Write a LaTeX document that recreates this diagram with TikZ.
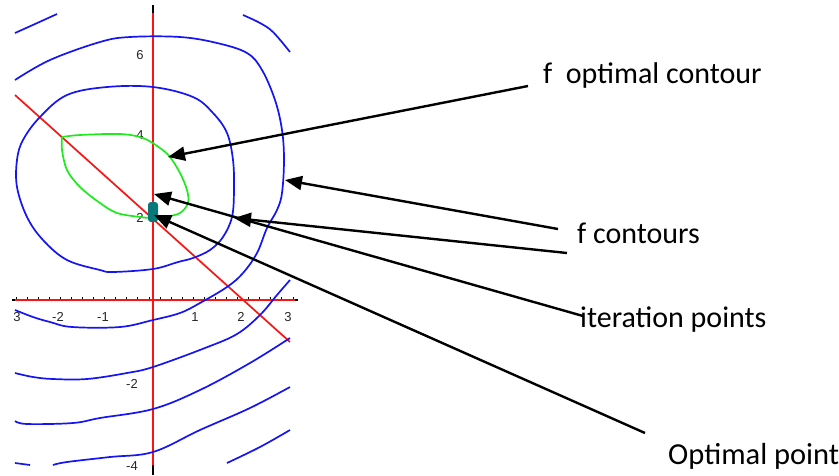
\documentclass[tikz,border=0pt]{standalone}
\usepackage{fontspec}
\newfontfamily\labfont{Carlito}
\newfontfamily\numfont{Liberation Sans}
\usetikzlibrary{arrows.meta}
\definecolor{cblue}{RGB}{20,20,245}
\definecolor{cred}{RGB}{250,20,20}
\definecolor{cgreen}{RGB}{30,235,30}
\definecolor{cteal}{RGB}{10,120,120}
\tikzset{
  contour/.style={cblue, line width=1.7pt, line join=round},
  axisline/.style={cred, line width=1.7pt},
  optcont/.style={cgreen, line width=1.7pt, line join=round},
  pointer/.style={black, line width=2.4pt, -{Triangle[length=17pt,width=14pt]}, shorten >=0pt},
  lab/.style={anchor=west, inner sep=0pt, font=\labfont\fontsize{30}{30}\selectfont},
  num/.style={inner sep=0pt, font=\numfont\fontsize{13}{13}\selectfont, text=black!85}
}
\begin{document}
\begin{tikzpicture}[x=1pt,y=-1pt]
\useasboundingbox (0,0) rectangle (839,475);
% axes
\draw[axisline] (153,13) -- (153,465);
\draw[black, line width=1.7pt] (153,5) -- (153,13);
\draw[black, line width=1.7pt] (153,465) -- (153,475);
\draw[axisline] (15,300) -- (295,300);
\draw[black, line width=1.7pt] (12,300) -- (15,300);
\draw[black, line width=1.7pt] (295,300) -- (298,300);
\foreach \i in {0,...,25} \draw[black, line width=0.9pt] (16+11.08*\i,299) -- (16+11.08*\i,296.5);
% axis numbers
\node[num] (xm3) at (17,317) {3};
\node[num] (xm2) at (58,317) {-2};
\node[num] (xm1) at (103,317) {-1};
\node[num] (x1) at (195,317) {1};
\node[num] (x2) at (241,317) {2};
\node[num] (x3) at (288,317) {3};
\node[num] (y6) at (140,55) {6};
\node[num] (y4) at (140,135) {4};
\node[num] (y2) at (140,218) {2};
\node[num] (ym2) at (132,384) {-2};
\node[num] (ym4) at (132,466) {-4};
% red diagonal
\draw[cred, line width=1.7pt] (15,95) -- (290,342);
% blue contours
\draw[contour] plot[smooth cycle, tension=0.6] coordinates {(153,87) (193,97) (213,113) (227,133) (233,160) (234,190) (232,217) (223,237) (210,250) (193,258) (178,262) (153,269) (113,272) (100,270) (67,260) (43,240) (27,217) (17,187) (17,160) (23,140) (40,117) (67,95) (107,87)};
\draw[contour] plot[smooth, tension=0.6] coordinates {(15,80) (50,60) (100,42) (130,37) (180,37) (217,43) (247,53) (262,70) (275,100) (282,130) (284,160) (282,193) (277,210) (267,228) (257,253) (243,273) (227,287) (200,303) (180,313) (153,320) (120,327) (72,327) (50,322) (33,317) (15,310)};
\draw[contour] plot[smooth, tension=0.6] coordinates {(15,33) (35,24) (57,14)};
\draw[contour] plot[smooth, tension=0.6] coordinates {(243,15) (260,23) (273,32) (290,52)};
\draw[contour] plot[smooth, tension=0.6] coordinates {(290,280) (277,295) (260,315) (237,334) (205,348) (153,367) (127,373) (87,379) (53,379) (33,377) (15,373)};
\draw[contour] plot[smooth, tension=0.6] coordinates {(290,338) (250,363) (200,390) (153,409) (100,418) (73,423) (27,424) (15,421)};
\draw[contour] plot[smooth, tension=0.6] coordinates {(290,387) (250,408) (200,430) (153,452) (110,457) (67,462) (53,465)};
\draw[contour] (15,463) -- (30,465);
\draw[contour] plot[smooth, tension=0.6] coordinates {(227,463) (260,447) (290,430)};
% green optimal contour
\draw[optcont] plot[smooth, tension=0.55] coordinates {(62,137) (80,135) (120,134) (143,138) (160,148) (170,157) (180,173) (187,190) (188,203) (180,213) (165,217) (152,218) (140,217) (117,213) (100,203) (80,187) (67,170) (62,150) (62,137)};
% optimal point marker
\node[fill=cteal, rounded corners=3pt, minimum width=10pt, minimum height=20pt, inner sep=0pt] (opt) at (153,212) {};
% labels
\node[lab] (lopt) at (543,75) {f~ optimal contour};
\node[lab] (lcont) at (577,233) {f contours};
\node[lab] (liter) at (580,320) {iteration points};
\node[lab, font=\labfont\fontsize{30.5}{30.5}\selectfont] (lpoint) at (668,456) {Optimal point};
% arrow ends
\coordinate (s1) at (528,86);
\coordinate (t1) at (168,157);
\coordinate (s2) at (558,229);
\coordinate (t2) at (285,180);
\coordinate (s3) at (567,253);
\coordinate (t3) at (234,218);
\coordinate (s4) at (583,316);
\coordinate (t4) at (154,194);
\coordinate (s5) at (645,433);
\coordinate (t5) at (154,215);
\draw[pointer] (s1) -- (t1);
\draw[pointer] (s2) -- (t2);
\draw[pointer] (s3) -- (t3);
\draw[pointer] (s4) -- (t4);
\draw[pointer] (s5) -- (t5);
\end{tikzpicture}
\end{document}
